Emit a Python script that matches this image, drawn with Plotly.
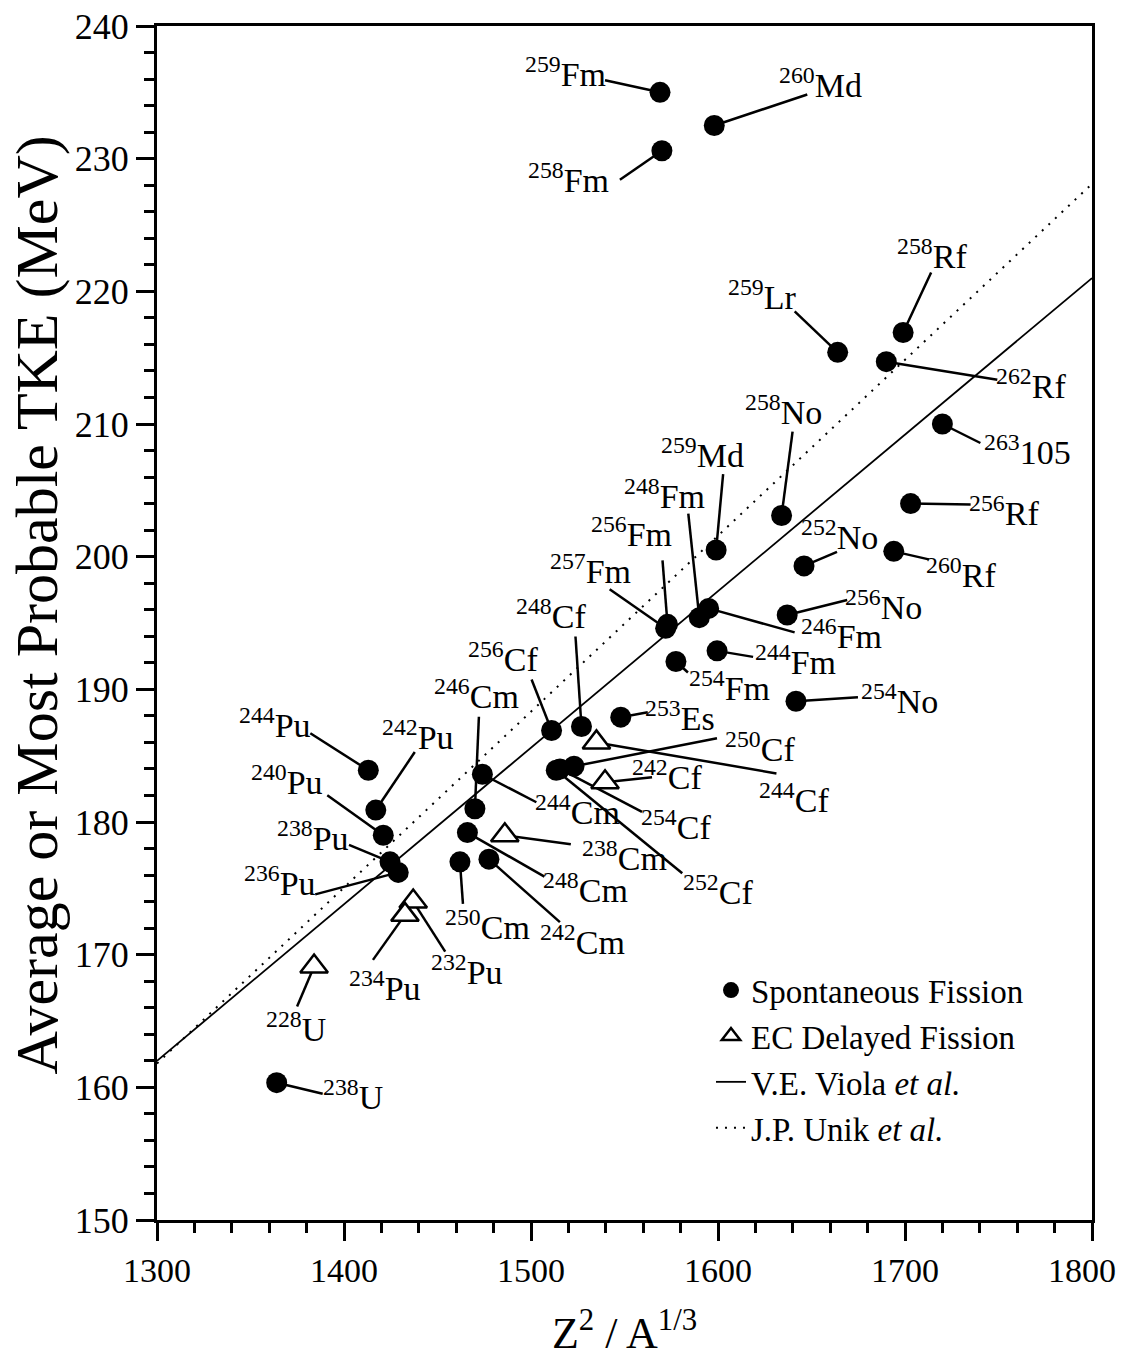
import plotly.graph_objects as go

FONT = "Liberation Serif, Times New Roman, serif"

# spontaneous fission: mass number, element, Z^2/A^(1/3), TKE (MeV)
sf_mass = [259, 260, 258, 258, 259, 262, 263, 256, 260, 252, 258, 259, 248,
           256, 257, 246, 256, 244, 254, 254, 253, 248, 256, 250, 254, 252,
           244, 246, 248, 250, 242, 244, 242, 240, 238, 236, 238]
sf_elem = ["Fm", "Md", "Fm", "Rf", "Lr", "Rf", "105", "Rf", "Rf", "No", "No",
           "Md", "Fm", "Fm", "Fm", "Fm", "No", "Fm", "Fm", "No", "Es", "Cf",
           "Cf", "Cf", "Cf", "Cf", "Cm", "Cm", "Cm", "Cm", "Cm", "Pu", "Pu",
           "Pu", "Pu", "Pu", "U"]
sf_x = [1569, 1598, 1570, 1699, 1664, 1690, 1720, 1703, 1694, 1646, 1634,
        1599, 1590, 1573, 1572, 1595, 1637, 1599.5, 1577.5, 1641.7, 1548,
        1527, 1511, 1523, 1515.5, 1513.5, 1474, 1470, 1466, 1462, 1477.5,
        1413, 1417, 1421, 1424.6, 1429, 1364]
sf_y = [235.0, 232.5, 230.6, 216.9, 215.4, 214.7, 210.0, 204.0, 200.4, 199.3,
        203.1, 200.5, 195.4, 194.9, 194.6, 196.1, 195.6, 192.9, 192.1, 189.1,
        187.9, 187.2, 186.9, 184.2, 184.0, 183.9, 183.6, 181.0, 179.2, 177.0,
        177.2, 183.9, 180.9, 179.0, 177.0, 176.2, 160.35]

# EC delayed fission
ec_mass = [244, 242, 238, 232, 234, 228]
ec_elem = ["Cf", "Cf", "Cm", "Pu", "Pu", "U"]
ec_x = [1535, 1539.6, 1486, 1437, 1432.6, 1384]
ec_y = [186.0, 183.0, 179.0, 174.0, 173.0, 169.1]

# systematics
viola_x = [1300, 1800]
viola_y = [162.0, 221.0]
unik_x = [1300, 1800]
unik_y = [161.8, 228.1]

# x axis ticks
x_ticks = [1300, 1400, 1500, 1600, 1700, 1800]
x_tick_labels = ["1300", "1400", "1500", "1600", "1700", "1800"]

# label placement in screen pixels (x right, y down):
# leader end dx, dy, then label centre dx, dy
label_offsets = {
    "259Fm": (-55, -12, -95, -20), "260Md": (93, -31, 106, -43),
    "258Fm": (-42, 29, -93, 27), "258Rf": (28, -60, 29, -78),
    "259Lr": (-43, -41, -76, -57), "262Rf": (111, 18, 145, 22),
    "263105": (38, 19, 85, 26), "256Rf": (60, 1, 93, 7),
    "260Rf": (35, 8, 67, 22), "252No": (33, -14, 35, -31),
    "258No": (11, -84, 2, -106), "259Md": (7, -76, -14, -97),
    "248Fm": (-11, -104, -35, -124), "256Fm": (-5, -64, -36, -92),
    "257Fm": (-56, -39, -75, -59), "246Fm": (86, 24, 133, 26),
    "256No": (60, -15, 96, -10), "244Fm": (36, 6, 78, 9),
    "254Fm": (12, 11, 54, 25), "254No": (62, -4, 104, -2),
    "253Es": (27, -5, 59, -1), "248Cf": (-6, -90, -30, -112),
    "256Cf": (-20, -51, -49, -73), "250Cf": (143, -28, 186, -19),
    "254Cf": (82, 43, 116, 56), "252Cf": (126, 103, 162, 120),
    "244Cm": (54, 28, 95, 36), "246Cm": (4, -92, 2, -115),
    "248Cm": (77, 44, 118, 55), "250Cm": (3, 42, 28, 63),
    "242Cm": (71, 63, 94, 81), "244Pu": (-58, -37, -93, -47),
    "242Pu": (39, -58, 42, -75), "240Pu": (-56, -40, -96, -55),
    "238Pu": (-41, -17, -77, -26), "236Pu": (-83, 22, -118, 9),
    "238U": (46, 11, 76, 12),
    "244Cf": (180, 31, 198, 56), "242Cf": (47, -5, 62, -7),
    "238Cm": (66, 9, 120, 21), "232Pu": (32, 50, 54, 68),
    "234Pu": (-32, 45, -20, 71), "228U": (-17, 40, -18, 60),
}


def add_labels(fig, masses, elems, xs, ys):
    """Leader line plus isotope label for each point."""
    for mass, elem, x, y in zip(masses, elems, xs, ys):
        ldx, ldy, tdx, tdy = label_offsets[f"{mass}{elem}"]
        fig.add_shape(
            type="line", xref="x", yref="y",
            xsizemode="pixel", ysizemode="pixel",
            xanchor=x, yanchor=y, x0=0, y0=0, x1=ldx, y1=-ldy,
            line=dict(color="black", width=2.5), layer="below",
        )
        fig.add_annotation(
            x=x, y=y, xshift=tdx, yshift=-tdy, showarrow=False,
            text=f"<sup>{mass}</sup>{elem}",
            font=dict(family=FONT, size=34, color="black"),
            xanchor="center", yanchor="middle",
        )


fig = go.Figure()

fig.add_trace(go.Scatter(
    x=viola_x, y=viola_y, mode="lines",
    line=dict(color="black", width=1.8),
    name="V.E. Viola <i>et al.</i>", legendrank=3, legendgroup="c",
))
fig.add_trace(go.Scatter(
    x=unik_x, y=unik_y, mode="lines",
    line=dict(color="black", width=2, dash="2px,7px"),
    name="J.P. Unik <i>et al.</i>", legendrank=4, legendgroup="d",
))
fig.add_trace(go.Scatter(
    x=sf_x, y=sf_y, mode="markers",
    marker=dict(symbol="circle", size=21, color="black"),
    name="Spontaneous Fission", legendrank=1, legendgroup="a",
))
fig.add_trace(go.Scatter(
    x=ec_x, y=ec_y, mode="markers",
    marker=dict(symbol="triangle-up", size=24, color="white",
                line=dict(color="black", width=2.5)),
    name="EC Delayed Fission", legendrank=2, legendgroup="b",
))

add_labels(fig, sf_mass, sf_elem, sf_x, sf_y)
add_labels(fig, ec_mass, ec_elem, ec_x, ec_y)

# y title placed as a rotated annotation so it sits clear of the tick labels
fig.add_annotation(
    x=-0.128, y=0.515, xref="paper", yref="paper", showarrow=False,
    text="Average or Most Probable TKE (MeV)", textangle=-90,
    font=dict(family=FONT, size=60, color="black"),
    xanchor="center", yanchor="middle",
)

# last x tick label would be clipped at the window edge, so it is drawn
# right-aligned to its tick instead of centred
fig.add_annotation(
    x=x_ticks[-1], y=0, xref="x", yref="paper", yshift=-50,
    showarrow=False, text=x_tick_labels[-1],
    font=dict(family=FONT, size=34, color="black"),
    xanchor="right", yanchor="middle", xshift=26,
)

axis_common = dict(
    showgrid=False, zeroline=False, showline=True, linecolor="black",
    linewidth=3, mirror=True, ticks="outside", ticklen=18, tickwidth=3,
    tickcolor="black", automargin=False, ticklabeloverflow="allow",
)

# page body adds an 8px offset, so the figure is trimmed to fit the window
fig.update_layout(
    width=1110, height=1352,
    margin=dict(l=149, r=26, t=18, b=140),
    paper_bgcolor="white", plot_bgcolor="white",
    font=dict(family=FONT, color="black"),
    xaxis=dict(
        range=[1300, 1800], tickmode="array", tickvals=x_ticks,
        ticktext=x_tick_labels[:-1] + [""],
        tickfont=dict(family=FONT, size=34, color="black"),
        minor=dict(dtick=20, tick0=1300, ticks="outside", ticklen=10,
                   tickwidth=2.5, tickcolor="black"),
        title=dict(text="Z<sup>2</sup> / A<sup>1/3</sup>",
                   font=dict(family=FONT, size=44), standoff=30),
        **axis_common,
    ),
    yaxis=dict(
        range=[150, 240], dtick=10, tick0=150,
        tickfont=dict(family=FONT, size=36, color="black"),
        minor=dict(dtick=2, ticks="outside", ticklen=10, tickwidth=2.5,
                   tickcolor="black"),
        **axis_common,
    ),
    legend=dict(
        x=0.5925, y=0.216, xanchor="left", yanchor="top",
        font=dict(family=FONT, size=33), bgcolor="rgba(0,0,0,0)",
        traceorder="normal", tracegroupgap=2,
    ),
    showlegend=True,
)

fig.write_html("out.html")
